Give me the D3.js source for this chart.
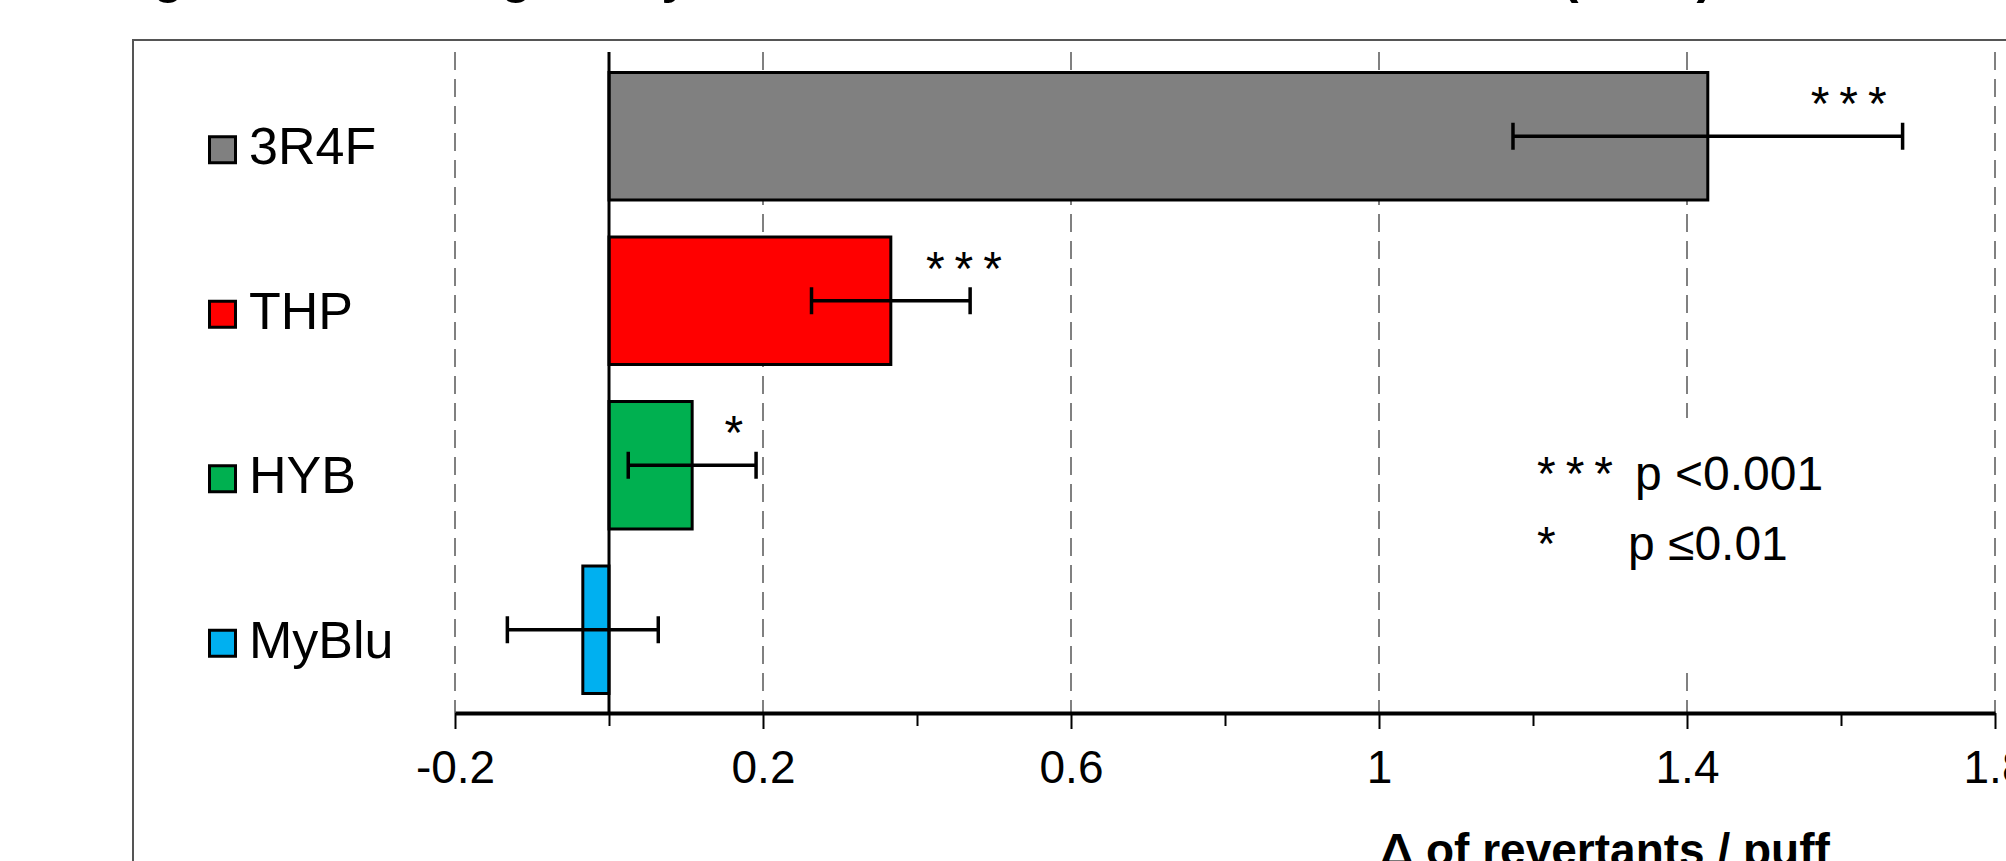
<!DOCTYPE html>
<html>
<head>
<meta charset="utf-8">
<script src="https://cdn.jsdelivr.net/npm/d3@7"></script>
<style>
  body { margin: 0; background: #fff; }
  text { font-family: "Liberation Sans", Arial, sans-serif; }
</style>
</head>
<body>
<div id="chart"></div>
<script>
// data
var products = ["3R4F", "THP", "HYB", "MyBlu"];
var meanDelta = [1.427, 0.366, 0.108, -0.034];
var errDelta = [0.253, 0.103, 0.083, 0.098];
var barColors = ["#808080", "#ff0000", "#00b050", "#00b0f0"];
var sigMarks = ["***", "***", "*", ""];
var sigAt = [1.61, 0.461, 0.162, null];
var majorTicks = [-0.2, 0.2, 0.6, 1, 1.4, 1.8];
var minorTicks = [0, 0.4, 0.8, 1.2, 1.6];
var legendStars = ["***", "*"];
var legendText = ["p <0.001", "p \u22640.01"];

var svgWidth = 2006;
var svgHeight = 861;
var axisY = 713;
var gridTop = 52;

var svg = d3.select("#chart")
  .append("svg")
  .attr("width", svgWidth)
  .attr("height", svgHeight);

// outer frame (runs off the right and bottom edges)
svg.append("rect")
  .attr("x", 133)
  .attr("y", 40)
  .attr("width", 2000)
  .attr("height", 1000)
  .attr("fill", "none")
  .attr("stroke", "#555")
  .attr("stroke-width", 2);

// title, cropped at the top of the picture
svg.append("text")
  .attr("x", 109)
  .attr("y", -7)
  .attr("font-size", 50)
  .attr("font-weight", "bold")
  .attr("textLength", 1604)
  .attr("lengthAdjust", "spacingAndGlyphs")
  .text("Figure 12 \u2013 Mutagenicity of aerosol and smoke in Salmonella (TA98)");

var xScale = d3.scaleLinear()
  .domain([-0.2, 1.8])
  .range([455, 1995]);

var yScale = d3.scaleBand()
  .domain(products)
  .range([54, 712])
  .paddingInner(0.225)
  .paddingOuter(0.1125);

var rows = products.map(function(p, i) {
  return { name: p, mean: meanDelta[i], err: errDelta[i], color: barColors[i], sig: sigMarks[i], sigX: sigAt[i] };
});

// dashed gridlines
svg.append("g").selectAll("line")
  .data(majorTicks)
  .enter().append("line")
  .attr("x1", d => xScale(d))
  .attr("x2", d => xScale(d))
  .attr("y1", gridTop)
  .attr("y2", axisY)
  .attr("stroke", "#808080")
  .attr("stroke-width", 2)
  .attr("stroke-dasharray", "18,9");

// p-value key box hides part of the 1.4 gridline
var key = svg.append("g");
key.append("rect")
  .attr("x", 1525)
  .attr("y", 418)
  .attr("width", 320)
  .attr("height", 254)
  .attr("fill", "#fff");

legendStars.forEach(function(s, i) {
  var base = 490 + i * 70;
  key.append("text")
    .attr("x", 1537)
    .attr("y", base)
    .attr("font-size", 48)
    .attr("letter-spacing", 10)
    .text(s);
  key.append("text")
    .attr("x", i === 0 ? 1635 : 1628)
    .attr("y", base)
    .attr("font-size", 48)
    .text(legendText[i]);
});

// x axis: minor ticks, then labelled ticks with the axis line
var minorAxis = d3.axisBottom(xScale)
  .tickValues(minorTicks)
  .tickSize(13)
  .tickSizeOuter(0)
  .tickFormat("");

var majorAxis = d3.axisBottom(xScale)
  .tickValues(majorTicks)
  .tickSize(16)
  .tickSizeOuter(0)
  .tickPadding(21)
  .tickFormat(d => String(d));

var gMinor = svg.append("g")
  .attr("transform", `translate(0, ${axisY})`)
  .call(minorAxis);
gMinor.select(".domain").remove();
gMinor.selectAll(".tick line").attr("stroke", "#000").attr("stroke-width", 2);

var gMajor = svg.append("g")
  .attr("transform", `translate(0, ${axisY})`)
  .call(majorAxis);
gMajor.select(".domain").attr("stroke", "#000").attr("stroke-width", 4);
gMajor.selectAll(".tick line").attr("stroke", "#000").attr("stroke-width", 2);
gMajor.selectAll(".tick text")
  .attr("font-family", "'Liberation Sans', Arial, sans-serif")
  .attr("font-size", 46)
  .attr("fill", "#000");

// bars
svg.append("g").selectAll("rect")
  .data(rows)
  .enter().append("rect")
  .attr("x", d => xScale(Math.min(0, d.mean)))
  .attr("y", d => yScale(d.name))
  .attr("width", d => Math.abs(xScale(d.mean) - xScale(0)))
  .attr("height", yScale.bandwidth())
  .attr("fill", d => d.color)
  .attr("stroke", "#000")
  .attr("stroke-width", 3);

// zero line (category axis)
svg.append("line")
  .attr("x1", xScale(0))
  .attr("x2", xScale(0))
  .attr("y1", gridTop)
  .attr("y2", axisY)
  .attr("stroke", "#000")
  .attr("stroke-width", 3);

// error bars
var errG = svg.append("g").selectAll("g")
  .data(rows)
  .enter().append("g")
  .attr("stroke", "#000")
  .attr("stroke-width", 3.5);

var mid = d => yScale(d.name) + yScale.bandwidth() / 2;

errG.append("line")
  .attr("x1", d => xScale(d.mean - d.err))
  .attr("x2", d => xScale(d.mean + d.err))
  .attr("y1", mid)
  .attr("y2", mid);
errG.append("line")
  .attr("x1", d => xScale(d.mean - d.err))
  .attr("x2", d => xScale(d.mean - d.err))
  .attr("y1", d => mid(d) - 13.5)
  .attr("y2", d => mid(d) + 13.5);
errG.append("line")
  .attr("x1", d => xScale(d.mean + d.err))
  .attr("x2", d => xScale(d.mean + d.err))
  .attr("y1", d => mid(d) - 13.5)
  .attr("y2", d => mid(d) + 13.5);

// significance stars
svg.append("g").selectAll("text")
  .data(rows.filter(d => d.sig))
  .enter().append("text")
  .attr("x", d => xScale(d.sigX) + 5)
  .attr("y", d => mid(d) - 16)
  .attr("text-anchor", "middle")
  .attr("font-size", 48)
  .attr("letter-spacing", 10)
  .text(d => d.sig);

// category labels with coloured keys
var cat = svg.append("g").selectAll("g")
  .data(rows)
  .enter().append("g");

cat.append("rect")
  .attr("x", 209.5)
  .attr("y", d => mid(d) + 28 - 27.5)
  .attr("width", 26)
  .attr("height", 26)
  .attr("fill", d => d.color)
  .attr("stroke", "#000")
  .attr("stroke-width", 3);

cat.append("text")
  .attr("x", 249)
  .attr("y", d => mid(d) + 28)
  .attr("font-size", 52)
  .text(d => d.name);

// axis title, cropped at the bottom
svg.append("text")
  .attr("x", 1605)
  .attr("y", 866)
  .attr("text-anchor", "middle")
  .attr("font-size", 46)
  .attr("font-weight", "bold")
  .text("\u0394 of revertants / puff");
</script>
</body>
</html>
